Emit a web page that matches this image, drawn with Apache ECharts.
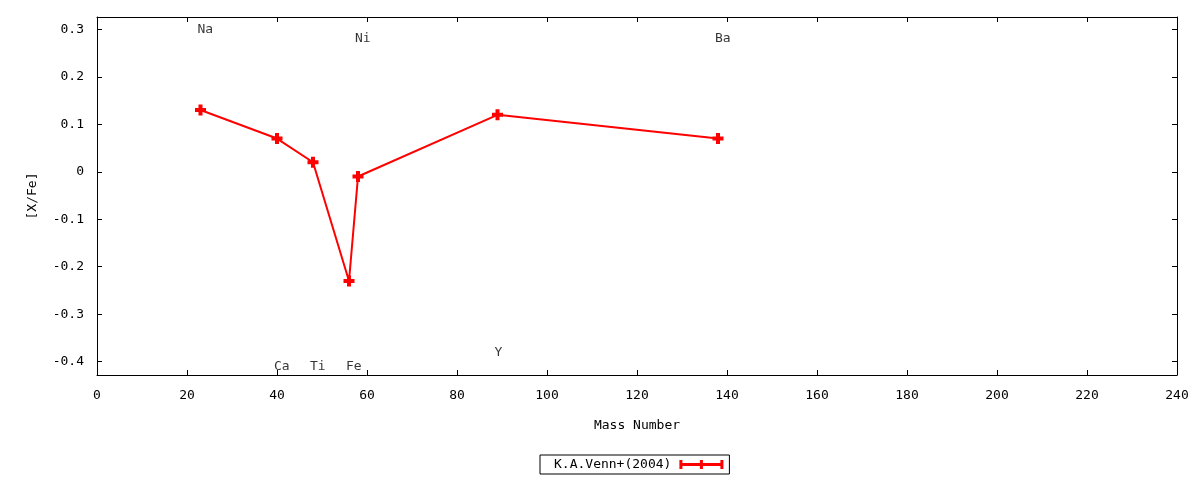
<!DOCTYPE html>
<html>
<head>
<meta charset="utf-8">
<script src="https://cdn.jsdelivr.net/npm/echarts@6/dist/echarts.min.js"></script>
<style>
  html, body { margin: 0; padding: 0; background: #fff; }
  #chart { width: 1200px; height: 480px; }
</style>
</head>
<body>
<div id="chart"></div>
<script>
// measured abundances, K.A.Venn+(2004)
const massNumbers = [23, 40, 48, 56, 58, 89, 138]
const xFe = [0.13, 0.07, 0.02, -0.23, -0.01, 0.12, 0.07]

// element name labels placed in the plot
const elementNames = ['Na', 'Ca', 'Ti', 'Fe', 'Ni', 'Y', 'Ba']
const labelX = [23, 40, 48, 56, 58, 89, 138]
const labelY = [0.30, -0.41, -0.41, -0.41, 0.28, -0.38, 0.28]

const yTicks = [-0.4, -0.3, -0.2, -0.1, 0, 0.1, 0.2, 0.3]
const seriesName = 'K.A.Venn+(2004)'

const font = 'DejaVu Sans Mono'
const plus = 'path://M3.5,0h4v11h-4z M0,3.5h11v4h-11z'

const myChart = echarts.init(document.getElementById('chart'))

const tickStyle = { show: true, inside: true, length: 5, lineStyle: { color: '#000', width: 1 } }
const lineStyle = { show: true, onZero: false, lineStyle: { color: '#000', width: 1 } }

const option = {
  animation: false,
  backgroundColor: '#fff',
  textStyle: { fontFamily: font, color: '#000' },
  grid: { left: 97, right: 23, top: 17, bottom: 105, containLabel: false },
  xAxis: [
    {
      type: 'value',
      min: 0,
      max: 240,
      interval: 20,
      name: 'Mass Number',
      nameLocation: 'middle',
      nameGap: 44,
      nameTextStyle: { fontFamily: font, fontSize: 13, color: '#000' },
      axisLine: lineStyle,
      axisTick: tickStyle,
      axisLabel: { fontFamily: font, fontSize: 13, color: '#000', margin: 14 },
      splitLine: { show: false },
    },
    {
      type: 'value',
      position: 'top',
      min: 0,
      max: 240,
      interval: 20,
      axisLine: lineStyle,
      axisTick: tickStyle,
      axisLabel: { show: false },
      splitLine: { show: false },
    },
  ],
  yAxis: [
    {
      type: 'value',
      min: -0.428,
      max: 0.326,
      name: '[X/Fe]',
      nameLocation: 'middle',
      nameGap: 58,
      nameTextStyle: { fontFamily: font, fontSize: 13, color: '#000' },
      axisLine: lineStyle,
      axisTick: { ...tickStyle, customValues: yTicks },
      axisLabel: {
        fontFamily: font,
        fontSize: 13,
        color: '#000',
        margin: 13,
        customValues: yTicks,
        formatter: v => (Math.abs(v) < 1e-9 ? '0' : v.toFixed(1)),
      },
      splitLine: { show: false },
    },
    {
      type: 'value',
      position: 'right',
      min: -0.428,
      max: 0.326,
      axisLine: lineStyle,
      axisTick: { ...tickStyle, customValues: yTicks },
      axisLabel: { show: false, customValues: yTicks },
      splitLine: { show: false },
    },
  ],
  legend: {
    data: [{ name: seriesName, icon: 'path://M0,3h44v3h-44z M0,0h3v9h-3z M20.5,0h3v9h-3z M41,0h3v9h-3z' }],
    bottom: 6,
    left: 540,
    align: 'right',
    itemWidth: 44,
    itemHeight: 9,
    padding: [3, 6, 3, 14],
    borderColor: '#000',
    borderWidth: 1,
    borderRadius: 0,
    textStyle: { fontFamily: font, fontSize: 13, color: '#000', padding: [0, 3, 0, 0] },
  },
  series: [
    {
      name: seriesName,
      type: 'line',
      data: massNumbers.map((m, i) => [m, xFe[i]]),
      symbol: plus,
      symbolSize: 11,
      color: '#ff0000',
      lineStyle: { color: '#ff0000', width: 2 },
      itemStyle: { color: '#ff0000' },
      z: 3,
    },
    {
      name: 'labels',
      type: 'scatter',
      data: labelX.map((x, i) => [x, labelY[i], elementNames[i]]),
      symbolSize: 0,
      silent: true,
      label: {
        show: true,
        position: 'inside',
        align: 'left',
        verticalAlign: 'middle',
        offset: [-3, 0],
        formatter: p => p.data[2],
        fontFamily: font,
        fontSize: 13,
        color: '#000',
      },
    },
  ],
}

myChart.setOption(option, true)
</script>
</body>
</html>
